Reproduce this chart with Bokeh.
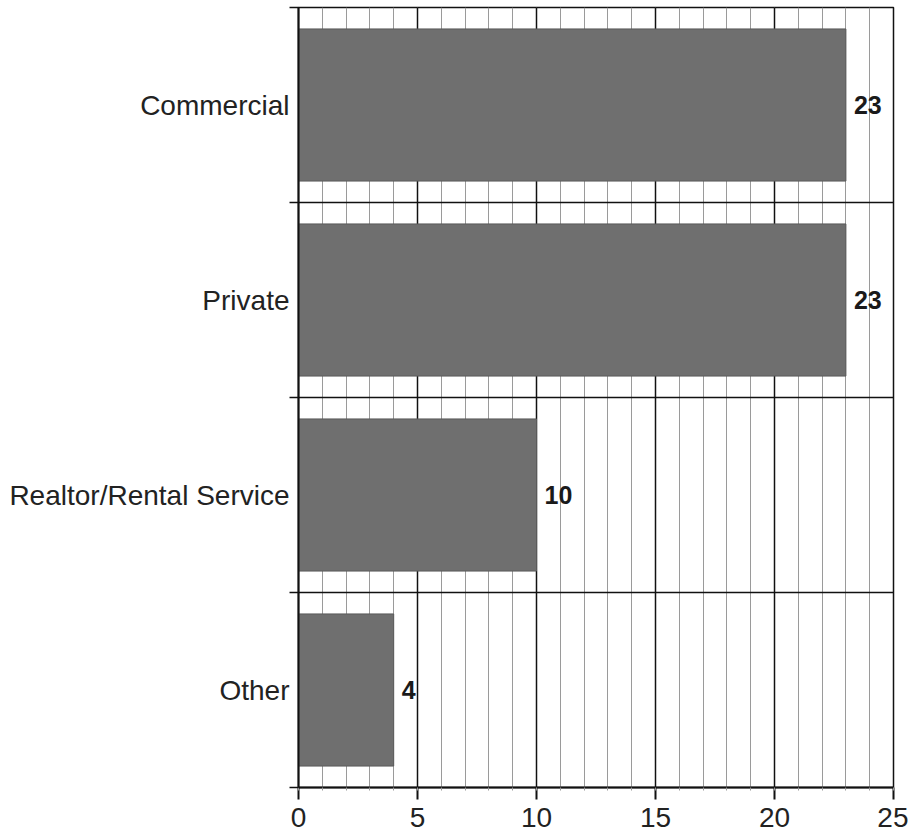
from bokeh.plotting import figure
from bokeh.models import FixedTicker, ColumnDataSource, LabelSet
from bokeh.core.properties import value
from bokeh.embed import file_html
from bokeh.resources import INLINE

categories = ["Commercial", "Private", "Realtor/Rental Service", "Other"]
values = [23, 23, 10, 4]
x_ticks = [0, 5, 10, 15, 20, 25]
x_minor = list(range(0, 26))

n = len(categories)
# numeric y positions: first category at top
ypos = [n - 0.5 - i for i in range(n)]
source = ColumnDataSource(dict(y=ypos, v=values, lab=[str(v) for v in values]))

p = figure(width=908, height=834, x_range=(0, 25), y_range=(0, n),
           output_backend="svg", toolbar_location=None,
           min_border_left=298, min_border_right=15,
           min_border_top=7, min_border_bottom=47)

p.hbar(y="y", right="v", left=0, height=0.78, source=source,
       fill_color="#6f6f6f", line_color="#5a5a5a", line_width=1)

labels = LabelSet(x="v", y="y", text="lab", source=source, x_offset=8,
                  text_baseline="middle", text_align="left",
                  text_font=value("Liberation Sans"), text_font_style="bold",
                  text_font_size="25px", text_color="#1a1a1a")
p.add_layout(labels)

# x axis
p.xaxis.ticker = FixedTicker(ticks=x_ticks, minor_ticks=x_minor)
p.xaxis.major_label_text_font = "Liberation Sans"
p.xaxis.major_label_text_font_size = "28px"
p.xaxis.major_label_text_color = "#222222"
p.xaxis.major_label_standoff = 8
p.xaxis.major_tick_out = 12
p.xaxis.major_tick_in = 0
p.xaxis.minor_tick_out = 3
p.xaxis.minor_tick_in = 0
p.xaxis.axis_line_color = "#111111"
p.xaxis.axis_line_width = 2
p.xaxis.major_tick_line_width = 2
p.xaxis.major_tick_line_color = "#111111"
p.xaxis.minor_tick_line_color = "#999999"

# y axis: labels at category centers, ticks at boundaries
p.yaxis.ticker = FixedTicker(ticks=ypos, minor_ticks=list(range(0, n + 1)))
p.yaxis.major_label_overrides = {y: c for y, c in zip(ypos, categories)}
p.yaxis.major_label_text_font = "Liberation Sans"
p.yaxis.major_label_text_font_size = "28px"
p.yaxis.major_label_text_color = "#222222"
p.yaxis.major_label_standoff = 0
p.yaxis.major_tick_line_color = None
p.yaxis.major_tick_out = 0
p.yaxis.minor_tick_out = 9
p.yaxis.minor_tick_in = 0
p.yaxis.minor_tick_line_color = "#111111"
p.yaxis.minor_tick_line_width = 1.5
p.yaxis.axis_line_color = "#111111"
p.yaxis.axis_line_width = 2

# grids
p.xgrid.ticker = FixedTicker(ticks=x_ticks, minor_ticks=x_minor)
p.xgrid.grid_line_color = "#111111"
p.xgrid.grid_line_width = 1.5
p.xgrid.grid_line_alpha = 1
p.xgrid.minor_grid_line_color = "#9a9a9a"
p.xgrid.minor_grid_line_width = 1
p.xgrid.level = "underlay"

p.ygrid.ticker = FixedTicker(ticks=list(range(0, n + 1)))
p.ygrid.grid_line_color = "#111111"
p.ygrid.grid_line_width = 1.5
p.ygrid.level = "underlay"

p.outline_line_color = "#111111"
p.outline_line_width = 1.5
p.background_fill_color = "white"
p.border_fill_color = "white"

open("out.html", "w").write(file_html(p, INLINE))
